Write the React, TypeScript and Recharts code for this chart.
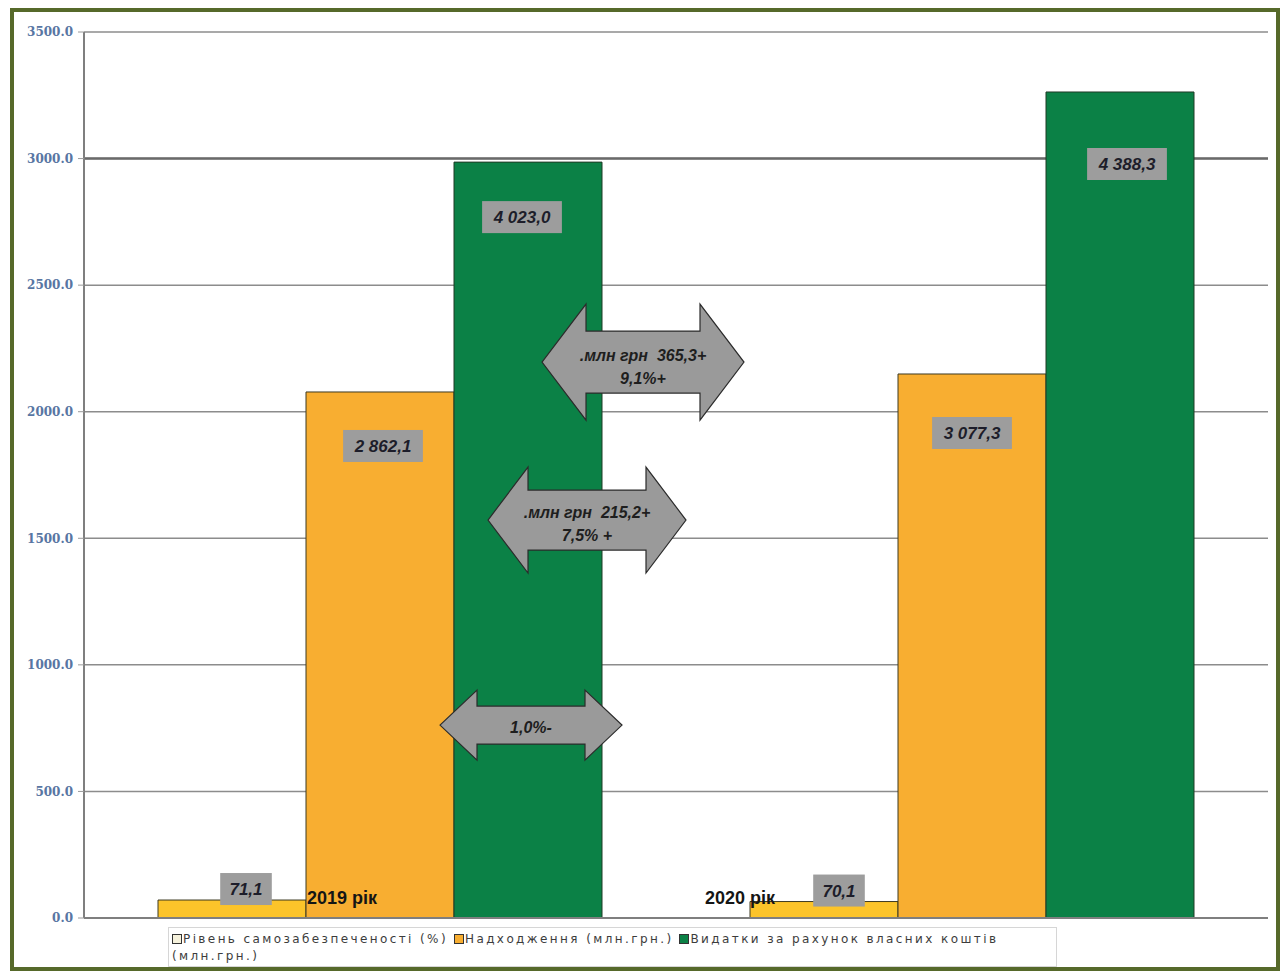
import React from 'react';
import { BarChart, Bar, XAxis, YAxis, CartesianGrid, LabelList, Legend, ReferenceDot } from 'recharts';

// ---- data ----
const categories = ['2019 рік', '2020 рік'];
const selfSufficiency = [71, 65];
const selfSufficiencyLabels = ['71,1', '70,1'];
const revenues = [2078, 2149];
const revenueLabels = ['2 862,1', '3 077,3'];
const expenses = [2986, 3263];
const expenseLabels = ['4 023,0', '4 388,3'];
const yTicks = [0, 500, 1000, 1500, 2000, 2500, 3000, 3500];
const emphasisTicks = [3000];
const seriesNames = [
  'Рівень самозабезпеченості (%)',
  'Надходження (млн.грн.)',
  'Видатки за рахунок власних коштів (млн.грн.)',
];
const arrowValues = [2196, 1572, 762];
const arrowTexts = [
  ['.млн грн\u00A0\u00A0365,3+', '9,1%+'],
  ['.млн грн\u00A0\u00A0215,2+', '7,5% +'],
  ['1,0%-'],
];

const data = categories.map((c, i) => ({
  category: c,
  self: selfSufficiency[i],
  selfLabel: selfSufficiencyLabels[i],
  revenue: revenues[i],
  revenueLabel: revenueLabels[i],
  expense: expenses[i],
  expenseLabel: expenseLabels[i],
}));

// ---- styles ----
const COLORS = ['#FCC42A', '#F8AE31', '#0B8146'];
const LEGEND_SWATCH = ['#F6F2DC', '#F8AE31', '#0B8146'];
const LABEL_FONT = '"Liberation Sans", Arial, sans-serif';
// label offsets (pixels) per bar index
const selfLabelDx = [14, 15];
const revenueLabelDx = [3, 0];
const revenueLabelDy = [38, 43];
const expenseLabelDx = [-6, 7];
const expenseLabelDy = [39, 56];
const categoryLabelDx = [-73, -267];
// arrow geometry: offset from first category centre, half length, head length, head half-height, shaft half-height
const arrowGeom = [
  { dx: 263, half: 101, head: 44, hh: 58, sh: 31, lineDy: [-7, 16] },
  { dx: 207, half: 99, head: 40, hh: 53, sh: 30, lineDy: [-8, 15] },
  { dx: 151, half: 91, head: 37, hh: 35, sh: 19, lineDy: [2] },
];

const textWidth = (s: string) => s.length * 9.4 + 14;

const makeBoxLabel = (mode: 'above' | 'inside', dxs: number[], dys: number[]) => (props: any) => {
  const { x, y, width, value, index } = props;
  const w = textWidth(String(value));
  const h = 32;
  const cx = Number(x) + Number(width) / 2 + (dxs[index] || 0);
  const top = mode === 'above' ? Number(y) - 27 : Number(y) + (dys[index] || 0);
  return (
    <g>
      <rect x={cx - w / 2} y={top} width={w} height={h} fill="#9d9d9d" />
      <text
        x={cx}
        y={top + h / 2}
        dy="0.36em"
        textAnchor="middle"
        fontStyle="italic"
        fontWeight="bold"
        fontSize={17}
        fontFamily={LABEL_FONT}
        fill="#1d1d2a"
      >
        {value}
      </text>
    </g>
  );
};

const CategoryTick = (props: any) => {
  const { x, y, payload, index } = props;
  return (
    <text
      x={Number(x) + (categoryLabelDx[index] || 0)}
      y={Number(y) - 14}
      textAnchor="start"
      fontWeight="bold"
      fontSize={18}
      fontFamily={LABEL_FONT}
      fill="#151515"
    >
      {payload.value}
    </text>
  );
};

const makeArrow = (i: number) => (props: any) => {
  const { cx, cy } = props;
  const g = arrowGeom[i];
  const c = Number(cx) + g.dx;
  const yc = Number(cy);
  const L = c - g.half;
  const R = c + g.half;
  const d = [
    `M${L},${yc}`,
    `L${L + g.head},${yc - g.hh}`,
    `L${L + g.head},${yc - g.sh}`,
    `L${R - g.head},${yc - g.sh}`,
    `L${R - g.head},${yc - g.hh}`,
    `L${R},${yc}`,
    `L${R - g.head},${yc + g.hh}`,
    `L${R - g.head},${yc + g.sh}`,
    `L${L + g.head},${yc + g.sh}`,
    `L${L + g.head},${yc + g.hh}`,
    'Z',
  ].join(' ');
  return (
    <g>
      <path d={d} fill="#9a9a9a" stroke="#2b2b2b" strokeWidth={1.2} />
      {arrowTexts[i].map((t, k) => (
        <text
          key={k}
          x={c}
          y={yc + g.lineDy[k]}
          dy="0.35em"
          textAnchor="middle"
          fontStyle="italic"
          fontWeight="bold"
          fontSize={16}
          fontFamily={LABEL_FONT}
          fill="#1e1e1e"
        >
          {t}
        </text>
      ))}
    </g>
  );
};

const swatch = (i: number) => (
  <span
    style={{
      display: 'inline-block',
      width: 8,
      height: 8,
      border: '1px solid #333',
      background: LEGEND_SWATCH[i],
      marginRight: 1,
      verticalAlign: '-1px',
    }}
  />
);

const renderLegend = () => {
  const last = seriesNames[seriesNames.length - 1];
  const cut = last.lastIndexOf(' ');
  return (
    <div
      style={{
        boxSizing: 'border-box',
        width: 889,
        height: 40,
        border: '1px solid #d6d6d6',
        background: '#fff',
        padding: '3px 2px 0 3px',
        fontFamily: '"DejaVu Sans", sans-serif',
        fontSize: 12,
        letterSpacing: '2.4px',
        color: '#3c3c3c',
        lineHeight: '17px',
        textAlign: 'left',
      }}
    >
      <div style={{ whiteSpace: 'nowrap', height: 17 }}>
        {seriesNames.map((n, i) => (
          <span key={i} style={{ display: 'inline-block', marginRight: 6 }}>
            {swatch(i)}
            <span>{i === seriesNames.length - 1 ? last.slice(0, cut) : n}</span>
          </span>
        ))}
      </div>
      <div style={{ whiteSpace: 'nowrap', height: 17 }}>{last.slice(cut + 1)}</div>
    </div>
  );
};

export default function App() {
  return (
    <div style={{ position: 'absolute', left: 0, top: 0, width: 1287, height: 974, background: '#fff' }}>
      <div
        style={{
          position: 'absolute',
          left: 10,
          top: 8,
          width: 1270,
          height: 963,
          boxSizing: 'border-box',
          border: '4px solid #56692a',
        }}
      />
      <div style={{ position: 'absolute', left: 0, top: 0 }}>
        <BarChart
          width={1287}
          height={974}
          data={data}
          margin={{ top: 32, right: 19, bottom: 26, left: 0 }}
          barCategoryGap="12.5%"
          barGap={0}
        >
          <CartesianGrid vertical={false} stroke="#8c8c8c" strokeWidth={1.5} />
          <CartesianGrid vertical={false} horizontalValues={emphasisTicks} stroke="#6a6a6a" strokeWidth={2.5} />
          <XAxis
            dataKey="category"
            height={30}
            tickSize={0}
            tickMargin={0}
            tickLine={false}
            axisLine={{ stroke: '#7f7f7f', strokeWidth: 2 }}
            tick={<CategoryTick />}
          />
          <YAxis
            width={84}
            domain={[0, 3500]}
            ticks={yTicks}
            interval={0}
            tickSize={6}
            tickMargin={5}
            tickFormatter={(v: number) => v.toFixed(1)}
            tickLine={{ stroke: '#9a9a9a' }}
            axisLine={{ stroke: '#7f7f7f', strokeWidth: 2 }}
            tick={{ fill: '#5876a3', fontSize: 12, fontWeight: 'bold', fontFamily: '"DejaVu Serif", serif' }}
          />
          <Bar dataKey="self" name={seriesNames[0]} fill={COLORS[0]} stroke="#3d3a22" strokeWidth={1} isAnimationActive={false}>
            <LabelList dataKey="selfLabel" content={makeBoxLabel('above', selfLabelDx, [0, 0])} />
          </Bar>
          <Bar dataKey="revenue" name={seriesNames[1]} fill={COLORS[1]} stroke="#3d3a22" strokeWidth={1} isAnimationActive={false}>
            <LabelList dataKey="revenueLabel" content={makeBoxLabel('inside', revenueLabelDx, revenueLabelDy)} />
          </Bar>
          <Bar dataKey="expense" name={seriesNames[2]} fill={COLORS[2]} stroke="#1f3a25" strokeWidth={1} isAnimationActive={false}>
            <LabelList dataKey="expenseLabel" content={makeBoxLabel('inside', expenseLabelDx, expenseLabelDy)} />
          </Bar>
          {arrowValues.map((v, i) => (
            <ReferenceDot key={i} x={categories[0]} y={v} r={0} ifOverflow="visible" shape={makeArrow(i)} />
          ))}
          <Legend
            layout="horizontal"
            verticalAlign="middle"
            align="center"
            content={renderLegend}
            wrapperStyle={{ position: 'absolute', left: 168, top: 927, width: 889, height: 40 }}
          />
        </BarChart>
      </div>
    </div>
  );
}
